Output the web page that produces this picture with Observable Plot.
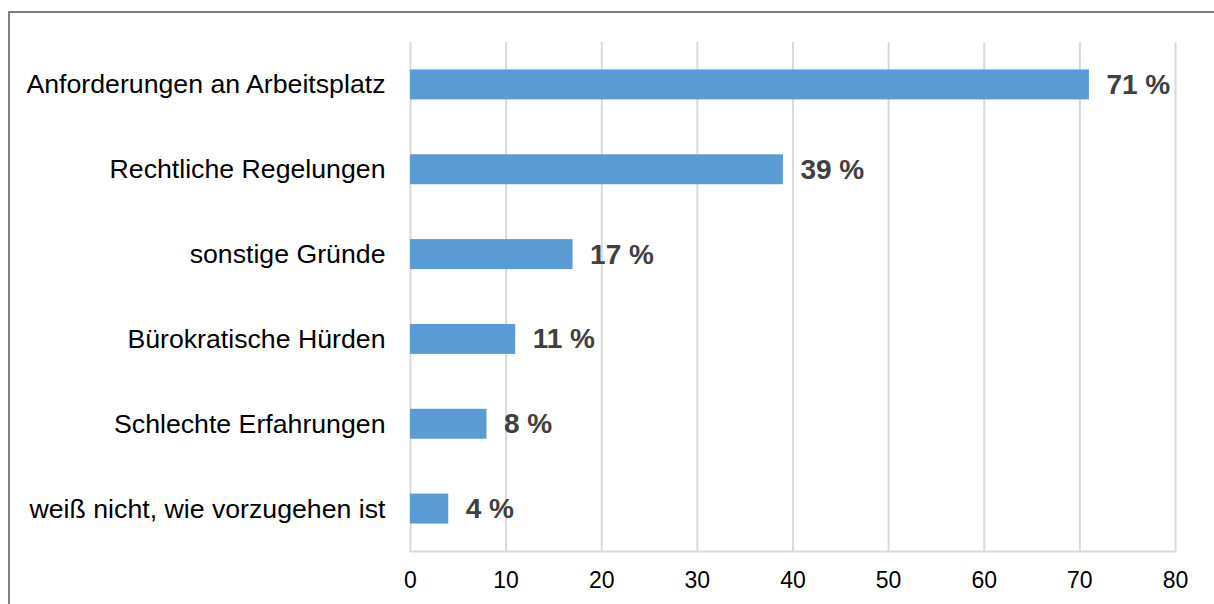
<!DOCTYPE html>
<html>
<head>
<meta charset="utf-8">
<script src="https://cdn.jsdelivr.net/npm/d3@7"></script>
<script src="https://cdn.jsdelivr.net/npm/@observablehq/plot@0.6"></script>
<style>
  html, body { margin: 0; padding: 0; background: #fff; overflow: hidden; }
  #frame { position: absolute; left: 8px; top: 11px; width: 3000px; height: 3000px;
           border-top: 2px solid #808080; border-left: 2px solid #808080; pointer-events: none; }
  #chart { position: absolute; left: 0; top: 0; }
</style>
</head>
<body>
<div id="frame"></div>
<div id="chart"></div>
<script>
const categories = [
  "Anforderungen an Arbeitsplatz",
  "Rechtliche Regelungen",
  "sonstige Gründe",
  "Bürokratische Hürden",
  "Schlechte Erfahrungen",
  "weiß nicht, wie vorzugehen ist"
];
const values = [71, 39, 17, 11, 8, 4];
const xTicks = [0, 10, 20, 30, 40, 50, 60, 70, 80];

const data = categories.map((c, i) => ({category: c, value: values[i]}));

const chart = Plot.plot({
  width: 1214,
  height: 604,
  marginLeft: 410,
  marginRight: 39,
  marginTop: 42,
  marginBottom: 53,
  style: {fontFamily: "'Liberation Sans', Arial, sans-serif", background: "transparent"},
  x: {domain: [0, 80], ticks: xTicks},
  y: {domain: categories, paddingInner: 0.647, paddingOuter: 0.3235, round: false},
  marks: [
    Plot.ruleX(xTicks, {stroke: "#d9d9d9", strokeWidth: 2, strokeOpacity: 1}),
    Plot.frame({anchor: "bottom", stroke: "#d9d9d9", strokeWidth: 2}),
    Plot.barX(data, {y: "category", x: "value", fill: "#5b9bd5"}),
    Plot.text(data, {
      y: "category", x: "value", text: d => `${d.value} %`,
      textAnchor: "start", dx: 17, fill: "#404040",
      fontSize: 28, fontWeight: "bold"
    }),
    Plot.axisY({tickSize: 0, tickPadding: 25, fontSize: 26.7, color: "#000", label: null}),
    Plot.axisX({ticks: xTicks, tickSize: 0, tickPadding: 20, fontSize: 23, color: "#000", label: null})
  ]
});
document.getElementById("chart").appendChild(chart);
</script>
</body>
</html>
